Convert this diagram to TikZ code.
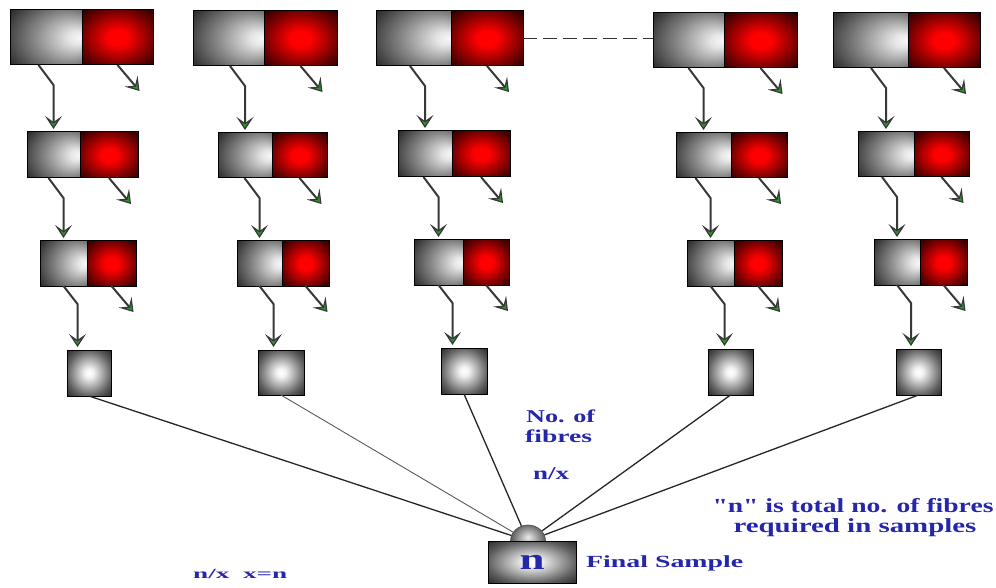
\documentclass[tikz,border=0pt]{standalone}
\usepackage{fontspec}
\setmainfont{Liberation Serif}[Ligatures=TeXOff]
\usepackage{graphicx}
\usetikzlibrary{arrows.meta,calc,shapes.geometric}

\definecolor{fblue}{RGB}{38,38,170}
\definecolor{agreen}{RGB}{40,150,40}

\pgfdeclareradialshading{grayhalf}{\pgfpoint{24bp}{0bp}}{color(0bp)=(white!97!black); color(6bp)=(white!90!black); color(22bp)=(black!45); color(40bp)=(black!82); color(60bp)=(black!88)}
\pgfdeclareradialshading{redhalf}{\pgfpoint{0bp}{0bp}}{color(0bp)=(red); color(7bp)=(red); color(25bp)=(red!45!black); color(36bp)=(red!15!black); color(50bp)=(black)}
\pgfdeclareradialshading{graybox}{\pgfpoint{0bp}{0bp}}{color(0bp)=(white); color(5bp)=(white!95!black); color(25bp)=(black!62); color(36bp)=(black!85); color(50bp)=(black!85)}
\pgfdeclareradialshading{domesh}{\pgfpoint{0bp}{6bp}}{color(0bp)=(white!92!black); color(25bp)=(black!65); color(50bp)=(black!80)}

\newcommand\mkpair[6]{%
  \node[ghalf, minimum width={(#3)-(#2)}, minimum height={(#6)-(#5)}] (g#1) at ({((#2)+(#3))/2},{((#5)+(#6))/2}) {};
  \node[rhalf, minimum width={(#4)-(#3)}, minimum height={(#6)-(#5)}] (r#1) at ({((#3)+(#4))/2},{((#5)+(#6))/2}) {};
}
\newcommand\mksmall[5]{%
  \node[sbox, minimum width={(#3)-(#2)}, minimum height={(#5)-(#4)}] (s#1) at ({((#2)+(#3))/2},{((#4)+(#5))/2}) {};
}

\tikzset{
  halfbase/.style={rectangle, draw=black, line width=1pt, inner sep=0pt, outer sep=0pt},
  ghalf/.style={halfbase, shading=grayhalf},
  rhalf/.style={halfbase, shading=redhalf},
  sbox/.style={halfbase, shading=graybox},
  fbox/.style={halfbase, shading=graybox, minimum width=88, minimum height=42,
    text=fblue, font=\bfseries\fontsize{30}{30}\selectfont},
  dome/.style={ellipse, draw=black!70, line width=0.6pt, shading=domesh,
    minimum width=35, minimum height=32, inner sep=0pt},
  garr/.style={draw=black!78, line width=2pt,
    -{Stealth[length=13pt,width=17pt,inset=6pt,fill=agreen,line width=1.2pt]}},
  link/.style={draw=black!85, line width=1.3pt},
  thinlink/.style={draw=black!65, line width=0.9pt},
  dashline/.style={draw=black!80, line width=1pt, dash pattern=on 14pt off 6pt},
  txt/.style={text=fblue, font=\bfseries\fontsize{18}{20}\selectfont, inner sep=0pt, anchor=base west},
}

\begin{document}
\begin{tikzpicture}[x=1pt,y=-1pt]
\useasboundingbox (0,0) rectangle (996,588);

% column 1
\mkpair{11}{10}{82}{153}{10}{65}
\mkpair{21}{27}{80}{138}{132}{178}
\mkpair{31}{40}{87}{136}{241}{286}
\mksmall{1}{67}{111}{350}{396}
% column 2
\mkpair{12}{193}{264}{337}{11}{66}
\mkpair{22}{218}{272}{327}{133}{178}
\mkpair{32}{237}{282}{329}{241}{286}
\mksmall{2}{258}{304}{350}{395}
% column 3
\mkpair{13}{376}{451}{523}{11}{66}
\mkpair{23}{398}{452}{510}{131}{177}
\mkpair{33}{414}{463}{509}{240}{285}
\mksmall{3}{441}{487}{348}{394}
% column 4
\mkpair{14}{653}{724}{797}{13}{68}
\mkpair{24}{676}{731}{787}{133}{178}
\mkpair{34}{687}{734}{782}{241}{286}
\mksmall{4}{708}{753}{349}{395}
% column 5
\mkpair{15}{833}{908}{980}{13}{68}
\mkpair{25}{858}{914}{969}{132}{177}
\mkpair{35}{874}{920}{967}{240}{285}
\mksmall{5}{896}{941}{349}{395}

\foreach \c in {1,...,5}{
  \draw[garr] ($(g2\c.north |- g1\c.south)+(-15,0)$) -- ++(15,20) -- ($(g2\c.north)+(0,-3)$);
  \draw[garr] ($(g3\c.north |- g2\c.south)+(-15,0)$) -- ++(15,20) -- ($(g3\c.north)+(0,-3)$);
  \draw[garr] (g3\c.south) -- ++(14,18) coordinate (b\c) -- ($(b\c |- s\c.north)+(0,-3)$);
  \foreach \r in {1,2,3}{
    \draw[garr] (r\r\c.south) -- ++(22,26) coordinate (e\r\c);
  }
}

% dashed continuation
\draw[dashline] (r13.east) -- (r13.east -| g14.west);

% final sample
\node[dome] (dome) at (528,541) {};
\node[fbox] (final) at (532,562) {\resizebox{25pt}{\height}{n}};

\draw[link] (s1.south) -- (dome);
\draw[thinlink] (s2.south) -- (dome);
\draw[link] (s3.south) -- (dome);
\draw[link] (s4.south) -- (dome);
\draw[link] (s5.south) -- (dome);

% texts
\node[txt] (t1) at (526,422) {\resizebox{69pt}{\height}{No. of}};
\node[txt] (t2) at (525,442) {\resizebox{67pt}{\height}{fibres}};
\node[txt] (t3) at (533,479) {\resizebox{36pt}{\height}{n/x}};
\node[txt, anchor=base, font=\bfseries\fontsize{20}{22}\selectfont] (t4) at (853,512) {\resizebox{281pt}{\height}{"n" is total no. of fibres}};
\node[txt, anchor=base, font=\bfseries\fontsize{20}{22}\selectfont] (t5) at (855,532) {\resizebox{243pt}{\height}{required in samples}};
\node[txt, font=\bfseries\fontsize{17}{19}\selectfont] (t6) at (586,567) {\resizebox{157pt}{\height}{Final Sample}};
\node[txt, font=\bfseries\fontsize{14}{16}\selectfont] (t7) at (193,578) {\resizebox{94pt}{\height}{n/x\ \ x=n}};
\end{tikzpicture}
\end{document}
